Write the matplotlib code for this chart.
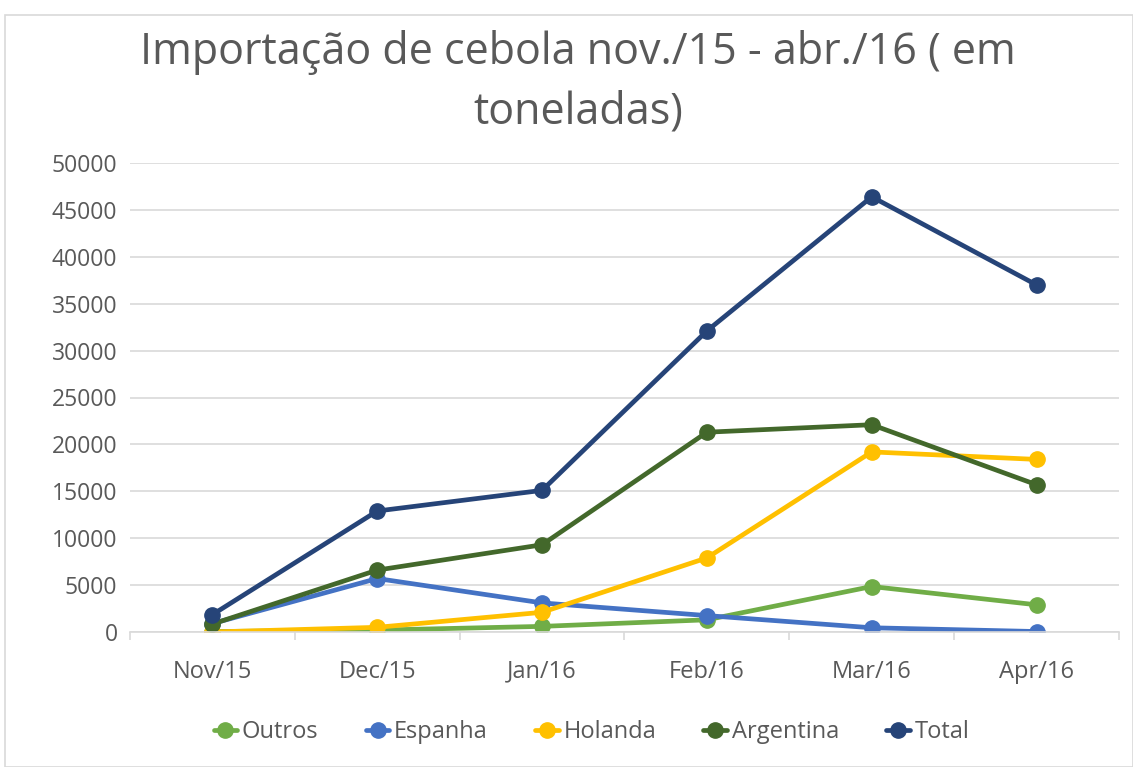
import matplotlib.pyplot as plt
from matplotlib.patches import Rectangle
from matplotlib.ticker import FixedLocator

plt.rcParams['font.family'] = ['Open Sans', 'DejaVu Sans']

# dados (toneladas)
meses = ['Nov/15', 'Dec/15', 'Jan/16', 'Feb/16', 'Mar/16', 'Apr/16']
outros = [50, 200, 600, 1300, 4850, 2900]
espanha = [900, 5700, 3100, 1750, 450, 50]
holanda = [0, 500, 2100, 7900, 19200, 18400]
argentina = [850, 6600, 9300, 21300, 22100, 15700]
total = [1850, 12900, 15100, 32100, 46400, 37000]

series = [('Outros', outros, '#70AD47'),
          ('Espanha', espanha, '#4472C4'),
          ('Holanda', holanda, '#FFC000'),
          ('Argentina', argentina, '#43682B'),
          ('Total', total, '#264478')]

cinza = '#595959'

fig = plt.figure(figsize=(11.33, 7.67), dpi=100)
fig.patches.append(Rectangle((5 / 1133, 0), 1 - 5 / 1133, 1 - 15 / 767,
                             transform=fig.transFigure, fill=False,
                             edgecolor='#D9D9D9', linewidth=1.2))
ax = fig.add_axes([130 / 1133, 135 / 767, 989 / 1133, 469 / 767])

x = range(len(meses))
for nome, vals, cor in series:
    ax.plot(x, vals, color=cor, linewidth=3.4, marker='o', markersize=11,
            label=nome, solid_capstyle='round')

ax.set_xlim(-0.5, len(meses) - 0.5)
ax.set_ylim(0, 50000)
ax.set_yticks(range(0, 50001, 5000))
ax.set_xticks(list(x))
ax.set_xticklabels(meses)
ax.xaxis.set_minor_locator(FixedLocator([i - 0.5 for i in range(len(meses) + 1)]))
ax.tick_params(axis='x', which='major', length=0, pad=20, labelsize=17, labelcolor=cinza)
ax.tick_params(axis='x', which='minor', length=6, color='#D9D9D9', width=1.2)
ax.tick_params(axis='y', length=0, pad=9, labelsize=16.5, labelcolor=cinza)
ax.grid(axis='y', color='#D9D9D9', linewidth=1.2)
ax.set_axisbelow(True)
for s in ['top', 'right', 'left']:
    ax.spines[s].set_visible(False)
ax.spines['bottom'].set_color('#D9D9D9')
ax.spines['bottom'].set_linewidth(1.2)

fig.text(0.51, 0.931, 'Importação de cebola nov./15 - abr./16 ( em', ha='center',
         va='center', fontsize=31, color=cinza)
fig.text(0.51, 0.853, 'toneladas)', ha='center', va='center', fontsize=31, color=cinza)

fig.legend(loc='center', bbox_to_anchor=(0.522, 0.045), ncol=5, frameon=False,
           fontsize=17, labelcolor=cinza, handlelength=1.0, handletextpad=0.2,
           columnspacing=2.0)

fig.savefig('out.png', dpi=100)
